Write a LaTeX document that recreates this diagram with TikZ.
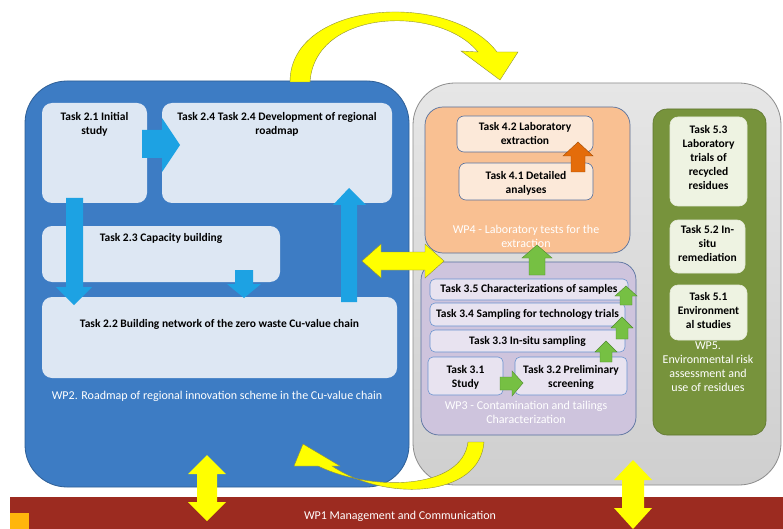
\documentclass[tikz,border=0pt]{standalone}
\usepackage{fontspec}
\setmainfont{Carlito}
\usetikzlibrary{calc}
\definecolor{wpblue}{HTML}{3D7CC4}
\definecolor{wpblueborder}{HTML}{2E5F96}
\definecolor{taskblue}{HTML}{DDE7F3}
\definecolor{arrowblue}{HTML}{1DA2E3}
\definecolor{greytop}{HTML}{E6E6E6}
\definecolor{greybottom}{HTML}{CFCFCF}
\definecolor{greyborder}{HTML}{8C8C8C}
\definecolor{wpfourfill}{HTML}{F9C092}
\definecolor{wpfourborder}{HTML}{56709E}
\definecolor{taskfourfill}{HTML}{FCE9D9}
\definecolor{wpthreefill}{HTML}{CEC4DD}
\definecolor{taskthreefill}{HTML}{E8E3F0}
\definecolor{taskthreeborder}{HTML}{6A93CF}
\definecolor{wpfivefill}{HTML}{77933C}
\definecolor{taskfivefill}{HTML}{EEF3E2}
\definecolor{arrowyellow}{HTML}{FFFF00}
\definecolor{yellowedge}{HTML}{8F8F3A}
\definecolor{arrowgreen}{HTML}{76C043}
\definecolor{greenedge}{HTML}{4E8A2E}
\definecolor{arroworange}{HTML}{E46C0A}
\definecolor{redbar}{HTML}{9C2B20}
\definecolor{orangesq}{HTML}{FFB60C}
\tikzset{
  boxbase/.style={rectangle, inner sep=0pt, outer sep=0pt, anchor=north west},
  tbluebox/.style={boxbase, fill=taskblue, rounded corners=10pt},
  tfourbox/.style={boxbase, fill=taskfourfill, draw=wpfourborder, line width=0.6pt, rounded corners=7pt},
  tthreebox/.style={boxbase, fill=taskthreefill, draw=taskthreeborder, line width=0.6pt, rounded corners=5pt},
  tfivebox/.style={boxbase, fill=taskfivefill, draw=white!80!wpfivefill, line width=0.6pt, rounded corners=8pt},
  tasktext/.style={anchor=north, inner sep=0pt, align=center, font=\bfseries\fontsize{11.5}{14}\selectfont, text=black},
  wptext/.style={anchor=north, inner sep=0pt, align=center, font=\fontsize{12}{13.5}\selectfont, text=white},
  bluearrow/.style={fill=arrowblue},
  yellowarrow/.style={fill=arrowyellow, draw=yellowedge, line width=0.4pt},
  greenarrow/.style={fill=arrowgreen, draw=greenedge, line width=0.4pt},
  orangearrow/.style={fill=arroworange, draw=arroworange!70!black, line width=0.4pt},
}
\begin{document}
\begin{tikzpicture}[x=1pt,y=-1pt]
\useasboundingbox (0,0) rectangle (783,529);
\fill[white] (0,0) rectangle (783,529);

% bottom bar
\node[boxbase, fill=redbar, minimum width=773, minimum height=32] (wp1) at (10,497) {};
\node[boxbase, fill=orangesq, minimum width=19, minimum height=16] (sq) at (10,513) {};
\node[wptext] (wp1l) at (400,511) {WP1 Management and Communication};

% WP2 big blue box
\node[boxbase, fill=wpblue, draw=wpblueborder, line width=0.8pt, rounded corners=42pt, minimum width=384, minimum height=406] (wp2) at (25,81) {};
% grey box
\node[boxbase, top color=greytop, bottom color=greybottom, draw=greyborder, line width=0.8pt, rounded corners=42pt, minimum width=368, minimum height=402] (grey) at (413,83) {};

% WP2 tasks
\node[tbluebox, minimum width=105, minimum height=100] (t21) at (42,103) {};
\node[tbluebox, minimum width=230, minimum height=100] (t24) at (162,103) {};
\node[tbluebox, minimum width=238, minimum height=56] (t23) at (42,226) {};
\node[tbluebox, minimum width=355, minimum height=81] (t22) at (42,297) {};

\node[tasktext] (t21l) at ($(t21.north)+(0,9)$) {Task 2.1 Initial\\study};
\node[tasktext] (t24l) at ($(t24.north)+(0,9)$) {Task 2.4 Task 2.4 Development of regional\\roadmap};
\node[tasktext] (t23l) at ($(t23.north)+(0,7)$) {Task 2.3 Capacity building};
\node[tasktext] (t22l) at ($(t22.north)+(0,22)$) {Task 2.2 Building network of the zero waste Cu-value chain};
\node[wptext] (wp2l) at (217,391) {WP2. Roadmap of regional innovation scheme in the Cu-value chain};

% blue arrows
\fill[bluearrow] (142,130) -- (162,130) -- (162,118) -- (180,145) -- (162,172) -- (162,158) -- (142,158) -- cycle;
\fill[bluearrow] (66,198) -- (83,198) -- (83,287) -- (92,287) -- (74,305) -- (56,287) -- (66,287) -- cycle;
\fill[bluearrow] (235,270) -- (253,270) -- (253,284) -- (261,284) -- (244,298) -- (227,284) -- (235,284) -- cycle;
\fill[bluearrow] (341,302) -- (341,205) -- (333,205) -- (349,188) -- (366,205) -- (357,205) -- (357,302) -- cycle;

% WP4
\node[boxbase, fill=wpfourfill, draw=wpfourborder, line width=0.7pt, rounded corners=18pt, minimum width=205, minimum height=146] (wp4) at (425,107) {};
\node[tfourbox, minimum width=136, minimum height=36] (t42) at (457,116) {};
\node[tfourbox, minimum width=134, minimum height=37] (t41) at (459,163) {};
\node[tasktext] (t42l) at ($(t42.north)+(0,6)$) {Task 4.2 Laboratory\\extraction};
\node[tasktext] (t41l) at ($(t41.north)+(0,8)$) {Task 4.1 Detailed\\analyses};
\node[wptext] (wp4l) at (526,225) {WP4 - Laboratory tests for the\\extraction};
\fill[orangearrow] (571,172) -- (571,156) -- (563,156) -- (578,142) -- (593,156) -- (585,156) -- (585,172) -- cycle;

% WP3
\node[boxbase, fill=wpthreefill, draw=wpfourborder, line width=0.7pt, rounded corners=18pt, minimum width=215, minimum height=173] (wp3) at (421,262) {};
\node[tthreebox, minimum width=198, minimum height=21] (t35) at (430,279) {};
\node[tthreebox, minimum width=195, minimum height=23] (t34) at (430,303) {};
\node[tthreebox, minimum width=195, minimum height=22] (t33) at (430,330) {};
\node[tthreebox, minimum width=75, minimum height=38] (t31) at (428,357) {};
\node[tthreebox, minimum width=112, minimum height=38] (t32) at (515,357) {};
\node[tasktext] (t35l) at ($(t35.north)+(0,5)$) {Task 3.5 Characterizations of samples};
\node[tasktext] (t34l) at ($(t34.north)+(0,6)$) {Task 3.4 Sampling for technology trials};
\node[tasktext] (t33l) at ($(t33.north)+(0,6)$) {Task 3.3 In-situ sampling};
\node[tasktext] (t31l) at ($(t31.north)+(0,8)$) {Task 3.1\\Study};
\node[tasktext] (t32l) at ($(t32.north)+(0,8)$) {Task 3.2 Preliminary\\screening};
\node[wptext] (wp3l) at (526,401) {WP3 - Contamination and tailings\\Characterization};

% green arrows
\draw[greenarrow] (529,275) -- (529,258) -- (522,258) -- (537,245) -- (552,258) -- (545,258) -- (545,275) -- cycle;
\draw[greenarrow] (500,377) -- (512,377) -- (512,371) -- (523,383) -- (512,396) -- (512,390) -- (500,390) -- cycle;
\draw[greenarrow] (600,362) -- (600,352) -- (595,352) -- (606,341) -- (617,352) -- (612,352) -- (612,362) -- cycle;
\draw[greenarrow] (616,339) -- (616,328) -- (611,328) -- (622,317) -- (633,328) -- (628,328) -- (628,339) -- cycle;
\draw[greenarrow] (620,305) -- (620,296) -- (615,296) -- (626,286) -- (637,296) -- (632,296) -- (632,305) -- cycle;

% WP5
\node[boxbase, fill=wpfivefill, draw=wpfivefill!80!black, line width=0.6pt, rounded corners=14pt, minimum width=113, minimum height=326] (wp5) at (653,109) {};
\node[tfivebox, minimum width=77, minimum height=89] (t53) at (670,117) {};
\node[tfivebox, minimum width=75, minimum height=53] (t52) at (670,220) {};
\node[tfivebox, minimum width=77, minimum height=55] (t51) at (670,285) {};
\node[tasktext] (t53l) at ($(t53.north)+(0,8)$) {Task 5.3\\Laboratory\\trials of\\recycled\\residues};
\node[tasktext] (t52l) at ($(t52.north)+(0,5)$) {Task 5.2 In-\\situ\\remediation};
\node[tasktext] (t51l) at ($(t51.north)+(0,7)$) {Task 5.1\\Environment\\al studies};
\node[wptext, font=\fontsize{12}{13.7}\selectfont] (wp5l) at (708,342) {WP5.\\Environmental risk\\assessment and\\use of residues};

% yellow arrows
\draw[yellowarrow] (290,82) .. controls (290,0) and (450,-10) .. (497,52) -- (518,52) -- (500,80) -- (461,51) -- (478,52) .. controls (440,5) and (315,8) .. (310,82) -- cycle;
\draw[yellowarrow] (468,442) -- (484,442) .. controls (480,498) and (385,502) .. (332,466) -- (340,466) -- (303,444) -- (294,466) -- (318,466) .. controls (372,492) and (462,490) .. (468,442) -- cycle;
\draw[yellowarrow] (362,261) -- (381,244) -- (381,252) -- (425,252) -- (425,244) -- (444,261) -- (425,278) -- (425,270) -- (381,270) -- (381,278) -- cycle;
\fill[arrowyellow] (207,455) -- (226,474) -- (217,474) -- (217,502) -- (226,502) -- (207,521) -- (188,502) -- (197,502) -- (197,474) -- (188,474) -- cycle;
\fill[arrowyellow] (633,460) -- (652,480) -- (644,480) -- (644,508) -- (652,508) -- (633,529) -- (614,508) -- (622,508) -- (622,480) -- (614,480) -- cycle;
\end{tikzpicture}
\end{document}
